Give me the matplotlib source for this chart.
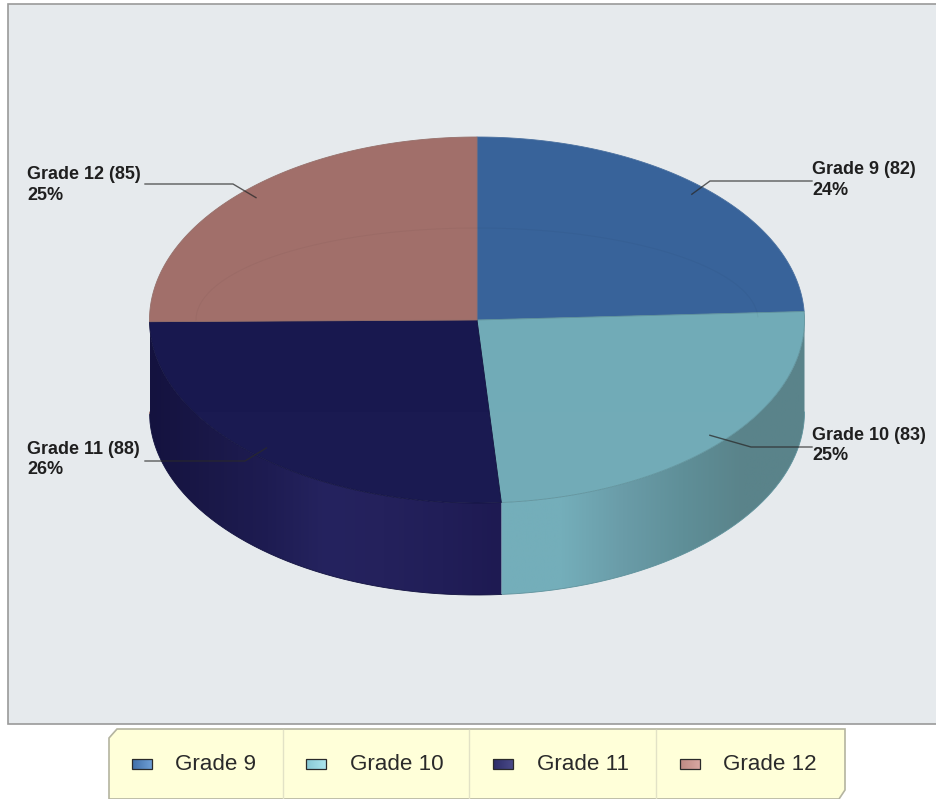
import numpy as np
from matplotlib import pyplot as plt
from matplotlib.colors import LinearSegmentedColormap
from matplotlib.patches import Polygon, Rectangle

plt.rcParams["font.family"] = ["Liberation Sans", "DejaVu Sans"]

grades = ["Grade 9", "Grade 10", "Grade 11", "Grade 12"]
counts = [82, 83, 88, 85]

top_colors = ["#38639a", "#71abb7", "#18184f", "#a16f6a"]
edge_colors = ["#4a709f", "#5f929c", "#121240", "#96706b"]
side_colors = [
    ["#2f5484", "#2f5484"],
    ["#74aeba", "#74aeba", "#6a9ca8", "#5f8f98", "#5a838a", "#5a838a"],
    ["#14123f", "#1a1848", "#1e1c52", "#25235f", "#24215c", "#211e58", "#1e1a52"],
    ["#8c605b", "#8c605b"],
]
swatch_colors = [
    ["#3f6ea8", "#6f9fd6"],
    ["#86c8d4", "#ace6ee"],
    ["#2c2c68", "#4a4a88"],
    ["#bd8983", "#d8a8a2"],
]

# 饼图在像素坐标中的几何参数
cx, cy = 477, 320
rx, ry = 327.5, 183
depth = 92

# 标签和引线的位置
label_x = [812, 812, 27, 27]
label_y = [170, 435.5, 449.5, 174.5]
elbow = [(710, 181), (751, 447), (245, 461), (233, 184)]
line_end_x = [812, 812, 145, 145]
legend_swatch_x = [132, 306, 493, 680]
legend_text_x = [175, 350, 537, 723]
legend_sep_x = [283, 469, 656]


def ellipse_point(angle, r=1.0, dy=0.0):
    # 角度从12点钟方向开始，顺时针
    a = np.radians(angle)
    return cx + r * rx * np.sin(a), cy - r * ry * np.cos(a) + dy


def arc(start, end, dy=0.0):
    t = np.linspace(start, end, 200)
    x, y = ellipse_point(t, dy=dy)
    return np.column_stack([x, y])


def gradient_fill(ax, poly_xy, colors, zorder):
    cmap = LinearSegmentedColormap.from_list("g", colors)
    x0, x1 = poly_xy[:, 0].min(), poly_xy[:, 0].max()
    y0, y1 = poly_xy[:, 1].min(), poly_xy[:, 1].max()
    grad = np.linspace(0, 1, 256).reshape(1, -1)
    im = ax.imshow(grad, cmap=cmap, extent=(x0, x1, y1, y0), aspect="auto", zorder=zorder)
    clip = Polygon(poly_xy, closed=True, transform=ax.transData, fc="none", ec="none")
    ax.add_patch(clip)
    im.set_clip_path(clip)
    return im


fig = plt.figure(figsize=(9.36, 7.99), dpi=100, facecolor="white")
ax = fig.add_axes([0, 0, 1, 1])

# 绘图区背景
ax.add_patch(Rectangle((7.5, 3.5), 940, 720, fc="#e6eaed", ec="#9a9a9a", lw=1.2, zorder=0))

total = sum(counts)
angles = np.cumsum([0] + [c / total * 360 for c in counts])

# 侧面，只有前半圈可见
for i in range(len(counts)):
    start, end = max(angles[i], 90), min(angles[i + 1], 270)
    if end <= start:
        continue
    top_arc = arc(start, end)
    bottom_arc = arc(start, end, dy=depth)
    poly = np.vstack([top_arc, bottom_arc[::-1]])
    gradient_fill(ax, poly, side_colors[i], zorder=1)
    ax.plot(bottom_arc[:, 0], bottom_arc[:, 1], color=edge_colors[i], lw=0.6, zorder=2)

# 顶面
for i in range(len(counts)):
    outline = np.vstack([[cx, cy], arc(angles[i], angles[i + 1])])
    ax.add_patch(Polygon(outline, closed=True, fc=top_colors[i], ec=edge_colors[i], lw=0.6, zorder=3))

# 顶面下半部分的淡色高光
full = arc(0, 360)
band = Rectangle((cx - rx, 412), 2 * rx, 100, fc="white", ec="none", alpha=0.012, zorder=4)
ax.add_patch(band)
band.set_clip_path(Polygon(full, closed=True, transform=ax.transData))

# 顶面内圈的淡线
t = np.linspace(-90, 88, 200)
ax.plot(cx + 281 * np.sin(np.radians(t)), cy - 92 * np.cos(np.radians(t)), color="black", lw=0.8, alpha=0.03, zorder=4)

# 标签和引线
for i, grade in enumerate(grades):
    mid = (angles[i] + angles[i + 1]) / 2
    ax_, ay_ = ellipse_point(mid, r=0.95)
    ex, ey = elbow[i]
    ax.plot([ax_, ex, line_end_x[i]], [ay_, ey, ey], color="#2a2a2a", lw=1.0, alpha=0.75, zorder=5)
    ax.text(label_x[i], label_y[i], f"{grade} ({counts[i]})", fontsize=12.95, fontweight="bold",
            color="#1f1f1f", ha="left", va="center", zorder=6)
    ax.text(label_x[i], label_y[i] + 20.5, f"{counts[i] / total:.0%}", fontsize=12.95, fontweight="bold",
            color="#1f1f1f", ha="left", va="center", zorder=6)

# 图例
legend_outline = [(109, 738), (117, 729), (845, 729), (845, 790), (839, 799), (109, 799)]
ax.add_patch(Polygon(legend_outline, closed=True, fc="#ffffd9", ec="#b4b4a0", lw=1.2, zorder=1))
for x in legend_sep_x:
    ax.plot([x, x], [729.5, 799], color="#e2e2c6", lw=1, zorder=2)
for i, grade in enumerate(grades):
    x0 = legend_swatch_x[i]
    swatch = np.array([(x0, 759), (x0 + 20, 759), (x0 + 20, 769), (x0, 769)], dtype=float)
    gradient_fill(ax, swatch, swatch_colors[i], zorder=2)
    ax.add_patch(Polygon(swatch, closed=True, fc="none", ec="#2a2a2a", lw=0.9, zorder=3))
    ax.text(legend_text_x[i], 764, grade, fontsize=16.1, color="#2a2a2a", ha="left", va="center", zorder=3)

ax.set_xlim(0, 936)
ax.set_ylim(799, 0)
ax.axis("off")

plt.savefig("out.png", dpi=100)
plt.close()
